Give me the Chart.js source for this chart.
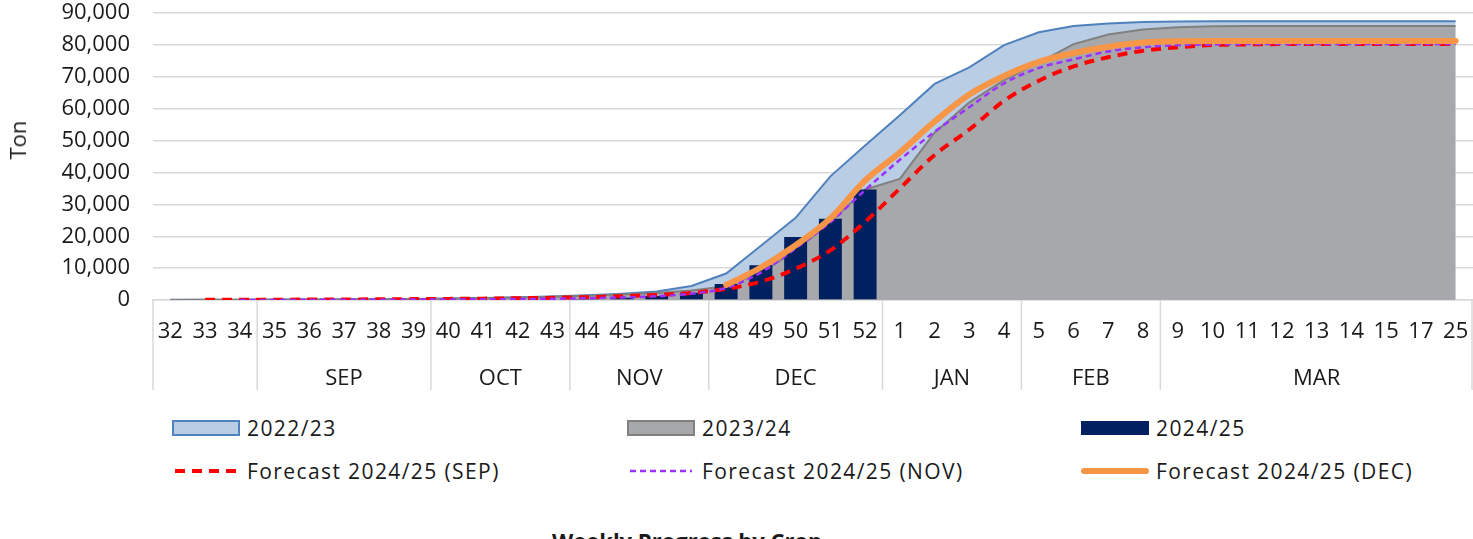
<!DOCTYPE html>
<html>
<head>
<meta charset="utf-8">
<script src="https://cdn.jsdelivr.net/npm/chart.js@4.4.1/dist/chart.umd.min.js"></script>
<style>
body { margin: 0; background: #fff; font-family: 'Open Sans', sans-serif; color: #1a1a1a; }
#wrap { position: relative; width: 1473px; height: 539px; overflow: hidden; }
#box { position: absolute; left: 0; top: 0; width: 1473px; height: 400px; }
#ytitle { position: absolute; left: 17px; top: 140px; transform: translate(-50%, -50%) rotate(-90deg); font-size: 22px; white-space: nowrap; }
.item { position: absolute; height: 30px; display: flex; align-items: center; font-size: 21px; letter-spacing: 1.4px; white-space: nowrap; }
.item canvas { margin-right: 7px; }
#title { position: absolute; left: 552px; top: 525px; font-size: 22px; font-weight: bold; line-height: 30px; white-space: nowrap; }
</style>
</head>
<body>
<div id="wrap">
  <div id="box"><canvas id="myChart"></canvas></div>
  <div id="ytitle">Ton</div>
  <div id="legend"></div>
  <div id="title">Weekly Progress by Crop</div>
</div>
<script>
// week numbers on the x axis
var weeks = ['32', '33', '34', '35', '36', '37', '38', '39', '40', '41', '42', '43', '44', '45', '46', '47',
  '48', '49', '50', '51', '52', '1', '2', '3', '4', '5', '6', '7', '8', '9', '10', '11', '12', '13', '14', '15', '17', '25'];

// month groups under the weeks (name + how many weeks it covers)
var monthNames = ['', 'SEP', 'OCT', 'NOV', 'DEC', 'JAN', 'FEB', 'MAR'];
var monthWeeks = [3, 5, 4, 4, 5, 4, 4, 9];

// cumulative tons per season
var season2223 = [50, 80, 100, 130, 170, 220, 280, 350, 500, 650, 850, 1100, 1500, 2000, 2700, 4400,
  8300, 17000, 25800, 38800, 48500, 58000, 67800, 73000, 80000, 84000, 86000, 86800, 87200, 87400, 87500, 87500, 87500, 87500, 87500, 87500, 87500, 87500];
var season2324 = [30, 50, 70, 100, 130, 170, 220, 280, 400, 550, 750, 1000, 1300, 1700, 2200, 3000,
  4300, 8600, 15500, 24500, 34700, 38000, 52500, 62000, 69000, 74500, 80300, 83300, 84900, 85600, 85900, 86000, 86000, 86000, 86000, 86000, 86000, 86000];
var season2425 = [null, null, null, null, null, null, null, null, null, null, null, null, 300, 700, 1250, 2300,
  5000, 10900, 19800, 25500, 34700, null, null, null, null, null, null, null, null, null, null, null, null, null, null, null, null, null];

// forecasts
var fcSep = [null, 50, 80, 100, 130, 170, 220, 280, 350, 430, 550, 700, 900, 1200, 1600, 2200,
  3500, 5800, 9800, 15600, 24500, 35000, 45500, 53500, 62500, 68800, 73300, 76200, 78200, 79300, 80000, 80200, 80300, 80300, 80300, 80300, 80300, 80300];
var fcNov = [null, null, 0, 20, 50, 80, 100, 130, 170, 220, 300, 400, 550, 800, 1200, 2000,
  3800, 8600, 16200, 24400, 34500, 44000, 52800, 60500, 68000, 72800, 75500, 78000, 79300, 80000, 80200, 80300, 80300, 80300, 80300, 80300, 80300, 80300];
var fcDec = [null, null, null, null, null, null, null, null, null, null, null, null, null, null, null, null,
  4700, 10200, 17200, 25600, 37500, 46300, 56000, 64500, 70300, 74700, 77500, 79500, 80800, 81200, 81250, 81250, 81250, 81250, 81250, 81250, 81250, 81250];

var font = 'Open Sans';
var textColor = '#1a1a1a';
var gridColor = '#d9d9d9';

// draws the month row and the separators under the week labels
var monthPlugin = {
  id: 'months',
  afterDraw: function(chart) {
    var ctx = chart.ctx;
    var x = chart.scales.x;
    var top = chart.chartArea.bottom;
    var half = (x.getPixelForValue(1) - x.getPixelForValue(0)) / 2;
    var start = 0;
    var right;
    ctx.save();
    ctx.strokeStyle = gridColor;
    ctx.lineWidth = 1.5;
    ctx.fillStyle = textColor;
    ctx.font = '22px "' + font + '"';
    ctx.textAlign = 'center';
    ctx.textBaseline = 'middle';
    for (var m = 0; m < monthNames.length; m++) {
      var left = x.getPixelForValue(start) - half;
      right = x.getPixelForValue(start + monthWeeks[m] - 1) + half;
      ctx.beginPath();
      ctx.moveTo(left, top);
      ctx.lineTo(left, top + 90);
      ctx.stroke();
      ctx.fillText(monthNames[m], (left + right) / 2, top + 79);
      start += monthWeeks[m];
    }
    ctx.beginPath();
    ctx.moveTo(right - 1, top);
    ctx.lineTo(right - 1, top + 90);
    ctx.stroke();
    ctx.restore();
  }
};

var ctx = document.getElementById('myChart').getContext('2d');
var myChart = new Chart(ctx, {
  type: 'bar',
  data: {
    labels: weeks,
    datasets: [{
      type: 'line',
      label: '2022/23',
      data: season2223,
      fill: 'origin',
      backgroundColor: '#b9cde5',
      borderColor: '#4f81bd',
      borderWidth: 2,
      pointRadius: 0,
      tension: 0,
      order: 5
    }, {
      type: 'line',
      label: '2023/24',
      data: season2324,
      fill: 'origin',
      backgroundColor: '#a6a8ab',
      borderColor: '#808080',
      borderWidth: 2,
      pointRadius: 0,
      tension: 0,
      order: 4
    }, {
      type: 'bar',
      label: '2024/25',
      data: season2425,
      backgroundColor: '#002060',
      barPercentage: 0.66,
      categoryPercentage: 1,
      order: 3
    }, {
      type: 'line',
      label: 'Forecast 2024/25 (SEP)',
      data: fcSep,
      fill: false,
      borderColor: '#ff0000',
      borderWidth: 4,
      borderDash: [10, 7],
      pointRadius: 0,
      cubicInterpolationMode: 'monotone',
      order: 2
    }, {
      type: 'line',
      label: 'Forecast 2024/25 (NOV)',
      data: fcNov,
      fill: false,
      borderColor: '#9b30ff',
      borderWidth: 2.5,
      borderDash: [6, 4],
      pointRadius: 0,
      cubicInterpolationMode: 'monotone',
      order: 1
    }, {
      type: 'line',
      label: 'Forecast 2024/25 (DEC)',
      data: fcDec,
      fill: false,
      borderColor: '#f79646',
      borderWidth: 6,
      borderCapStyle: 'round',
      pointRadius: 0,
      cubicInterpolationMode: 'monotone',
      order: 0
    }]
  },
  options: {
    responsive: true,
    maintainAspectRatio: false,
    animation: false,
    layout: { padding: { top: 0, right: 0, bottom: 0, left: 0 } },
    plugins: {
      legend: { display: false },
      tooltip: { enabled: false }
    },
    scales: {
      x: {
        grid: { display: true, drawOnChartArea: false, color: 'rgba(0,0,0,0)', tickLength: 19 },
        border: { display: true, color: gridColor, width: 1.5 },
        ticks: { color: textColor, font: { family: font, size: 22 }, padding: 0, maxRotation: 0, autoSkip: false },
        afterFit: function(s) { s.height = 100; }
      },
      y: {
        min: 0,
        max: 90000,
        grid: { color: gridColor, lineWidth: 1.5, drawTicks: true, tickLength: 23, tickColor: 'rgba(0,0,0,0)' },
        border: { display: false },
        ticks: {
          stepSize: 10000,
          padding: 0,
          autoSkip: false,
          color: textColor,
          font: { family: font, size: 22 },
          callback: function(v) { return v.toLocaleString('en-US'); }
        },
        afterFit: function(s) { s.width = 153; }
      }
    }
  },
  plugins: [monthPlugin]
});

// legend laid out in three columns like the original
var legendCols = [172, 627, 1081];
var legendRows = [428, 471];
var legendBox = document.getElementById('legend');
myChart.data.datasets.forEach(function(ds, i) {
  var item = document.createElement('div');
  item.className = 'item';
  item.style.left = legendCols[i % 3] + 'px';
  item.style.top = (legendRows[Math.floor(i / 3)] - 15) + 'px';
  var sw = document.createElement('canvas');
  sw.width = 68;
  sw.height = 20;
  var c = sw.getContext('2d');
  if (ds.fill === 'origin') {
    c.fillStyle = ds.backgroundColor;
    c.fillRect(1, 3, 66, 14);
    c.strokeStyle = ds.borderColor;
    c.lineWidth = 2;
    c.strokeRect(1, 3, 66, 14);
  } else if (ds.type === 'bar') {
    c.fillStyle = ds.backgroundColor;
    c.fillRect(0, 3, 68, 14);
  } else {
    c.strokeStyle = ds.borderColor;
    c.lineWidth = ds.borderWidth;
    c.lineCap = ds.borderCapStyle || 'butt';
    c.setLineDash(ds.borderDash || []);
    c.beginPath();
    c.moveTo(3, 10);
    c.lineTo(65, 10);
    c.stroke();
  }
  item.appendChild(sw);
  item.appendChild(document.createTextNode(ds.label));
  legendBox.appendChild(item);
});
</script>
</body>
</html>
